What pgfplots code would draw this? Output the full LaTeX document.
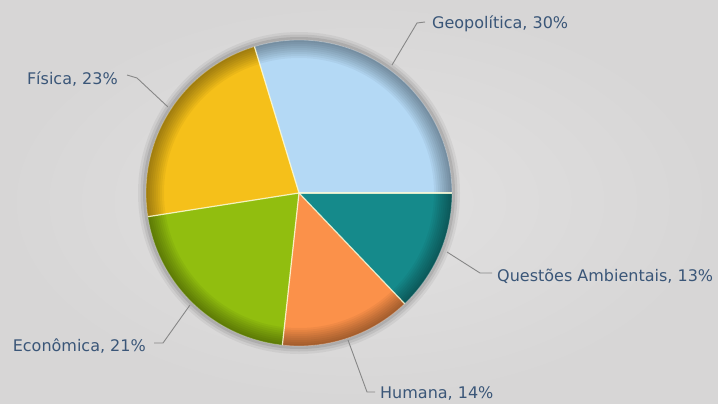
\documentclass[border=0pt]{standalone}
\usepackage{pgfplots}
\pgfplotsset{compat=1.18}
\usepgfplotslibrary{polar}
\usepackage{fontspec}
\setmainfont{DejaVu Sans}
\definecolor{bgin}{RGB}{226,225,225}
\definecolor{bgout}{RGB}{215,214,214}
\definecolor{geo}{RGB}{180,217,245}
\definecolor{fis}{RGB}{245,192,26}
\definecolor{eco}{RGB}{145,190,15}
\definecolor{hum}{RGB}{251,145,74}
\definecolor{qa}{RGB}{21,138,139}
\definecolor{lbl}{RGB}{58,86,120}
\definecolor{lead}{RGB}{135,135,135}
% shares (percent, as labelled)
\def\pGeo{30}\def\pFis{23}\def\pEco{21}\def\pHum{14}\def\pQA{13}
\begin{document}
\begin{tikzpicture}
\pgfmathsetmacro\k{360/(\pGeo+\pFis+\pEco+\pHum+\pQA)}
\pgfmathsetmacro\aA{\k*\pGeo}
\pgfmathsetmacro\aB{\aA+\k*\pFis}
\pgfmathsetmacro\aC{\aB+\k*\pEco}
\pgfmathsetmacro\aD{\aC+\k*\pHum}
\def\aE{360}
\begin{scope}[x=1bp,y=1bp]
\useasboundingbox (0,0) rectangle (718,403);
\shade[inner color=bgin, outer color=bgout] (0,0) rectangle (718,403);
% soft shadow
\fill[black, opacity=0.05] (299,210) circle (161);
\fill[black, opacity=0.07] (299,210) circle (158.5);
\fill[black, opacity=0.09] (299,210) circle (156);
\end{scope}
\begin{polaraxis}[at={(299bp,210bp)}, anchor=origin,
  width=306bp, height=306bp, scale only axis, hide axis,
  ymin=0, ymax=1, xmin=0, xmax=360, clip=false]
\addplot[fill=geo, draw=none, domain=0:\aA, samples=90] {1} -- (axis cs:0,0) -- cycle;
\addplot[fill=fis, draw=none, domain=\aA:\aB, samples=90] {1} -- (axis cs:0,0) -- cycle;
\addplot[fill=eco, draw=none, domain=\aB:\aC, samples=90] {1} -- (axis cs:0,0) -- cycle;
\addplot[fill=hum, draw=none, domain=\aC:\aD, samples=90] {1} -- (axis cs:0,0) -- cycle;
\addplot[fill=qa, draw=none, domain=\aD:\aE, samples=90] {1} -- (axis cs:0,0) -- cycle;
\end{polaraxis}
\begin{scope}[x=1bp,y=1bp]
% rim shading
\foreach \r in {135,137,...,151} {\fill[black, opacity=0.045, even odd rule] (299,210) circle (153) (299,210) circle (\r);}
% separators
\foreach \a in {0,\aA,\aB,\aC,\aD} {\draw[line width=1.2, color=white!85!yellow, opacity=0.85] (299,210) -- ++(\a:153);}
\draw[white, opacity=0.3, line width=0.8] (299,210) circle (153);
% leader lines and labels
\begin{scope}[lead, line width=0.9]
\draw (392,338) -- (417,380) -- (425,381);
\draw (168,296) -- (137,325) -- (127,328);
\draw (447,151) -- (480,130) -- (492,130);
\draw (190,98) -- (163,60) -- (154,60);
\draw (348,63) -- (367,11) -- (375,11);
\end{scope}
\begin{scope}[every node/.style={text=lbl, font=\fontsize{16bp}{19bp}\selectfont, inner sep=0pt}]
\node[anchor=base west] at (432,375) {Geopolítica, 30\%};
\node[anchor=base east] at (118,319) {Física, 23\%};
\node[anchor=base west] at (497,122) {Questões Ambientais, 13\%};
\node[anchor=base east] at (146,52) {Econômica, 21\%};
\node[anchor=base west] at (380,5) {Humana, 14\%};
\end{scope}
\end{scope}
\end{tikzpicture}
\end{document}
